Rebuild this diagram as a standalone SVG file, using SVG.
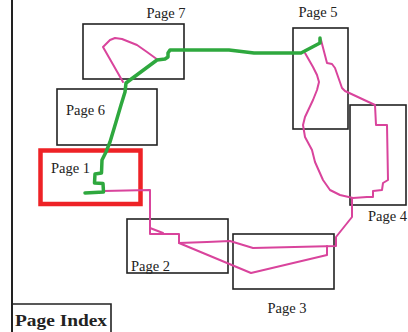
<svg xmlns="http://www.w3.org/2000/svg" width="408" height="332" viewBox="0 0 408 332">
<style>
.box{fill:none;stroke:#222;stroke-width:1.6}
.lbl{font-family:"Liberation Serif",serif;font-size:14.5px;fill:#222}
.pink{fill:none;stroke:#d9449c;stroke-width:2;stroke-linejoin:round;stroke-linecap:round}
.green{fill:none;stroke:#2ea83e;stroke-width:3.5;stroke-linejoin:round;stroke-linecap:round}
</style>
<rect width="408" height="332" fill="#fff"/>
<line x1="12" y1="0" x2="12" y2="332" stroke="#222" stroke-width="2"/>
<g id="page7"><rect class="box" x="83" y="24" width="101" height="55"/><text class="lbl" x="166" y="18" text-anchor="middle">Page 7</text></g>
<g id="page6"><rect class="box" x="57" y="89" width="100" height="56"/><text class="lbl" x="66" y="115">Page 6</text></g>
<g id="page5"><rect class="box" x="293" y="28" width="55" height="101"/><text class="lbl" x="318" y="17" text-anchor="middle">Page 5</text></g>
<g id="page4"><rect class="box" x="350" y="105" width="56" height="100"/><text class="lbl" x="368" y="221">Page 4</text></g>
<g id="page2"><rect class="box" x="127" y="219" width="101" height="54"/><text class="lbl" x="131" y="271">Page 2</text></g>
<g id="page3"><rect class="box" x="233" y="234" width="101" height="55"/><text class="lbl" x="287" y="313" text-anchor="middle">Page 3</text></g>
<g id="page1"><rect x="40.5" y="150.5" width="100" height="53.5" fill="none" stroke="#ee2226" stroke-width="4.5"/><text class="lbl" x="51" y="173">Page 1</text></g>
<g id="connectors">
<path class="pink" d="M123,82 L103,47 L110,40 L115,38 L122,39 L137,45 L147,52 L158,60"/>
<path class="pink" d="M321,40 L327,63 L332,64 L335,68 L342,88 L345,91 L375,105 L376,125 L387,125 L388,180 L383,183 L382,190 L373,191 L373,197 L367,197 L353,198 L340,195 L330,190 L323,180 L315,162 L312,150 L305,137 L303,125 L305,117 L313,100 L317,90 L319,82 L317,75 L313,67 L305,53"/>
<path class="pink" d="M352,198 L352,217 L336,237 L336,246 L253,248 L230,241 L207,242 L179,243 L179,234 L150,234 L150,190 L103,191"/>
<path class="pink" d="M150,228 L163,233"/>
<path class="pink" d="M179,243 L251,273 L327,255 L327,246"/>
<path class="green" d="M320,38 L320,43 L301,53 L254,53 L229,50 L190,50 L170,50 L168,53 L168,57 L165,59 L157,60 L130,80 L126,83 L125,92 L121,105 L116,122 L110,142 L106,152 L102,160 L101.5,173 L95,174 L94.5,183 L103,183.5 L103.5,192 L85,193"/>
</g>
<g id="pageindex"><path class="box" d="M12,304 L111,304 L111,332"/><text x="15" y="326" font-family="Liberation Serif,serif" font-weight="bold" font-size="17" fill="#222" textLength="92" lengthAdjust="spacingAndGlyphs">Page Index</text></g>
</svg>
